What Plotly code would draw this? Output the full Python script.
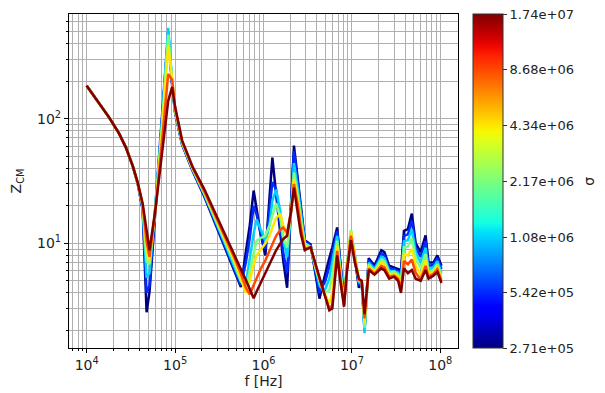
import plotly.graph_objects as go
import math

# ---------------- data ----------------
freq_hz = [1.00e4, 1.29e4, 1.80e4, 2.33e4, 2.78e4, 3.33e4, 3.78e4, 4.30e4, 4.76e4, 5.14e4,
           6.00e4, 7.17e4, 8.36e4, 9.26e4, 1.00e5, 1.20e5, 1.58e5, 2.15e5, 2.78e5, 3.59e5,
           4.64e5, 5.55e5, 6.31e5, 6.99e5, 7.74e5, 8.36e5, 9.26e5, 1.05e6, 1.17e6, 1.26e6,
           1.39e6, 1.55e6, 1.67e6, 1.85e6, 2.05e6, 2.21e6, 2.45e6, 2.64e6, 2.93e6, 3.41e6,
           3.88e6, 4.30e6, 4.64e6, 5.01e6, 5.55e6, 6.00e6, 6.81e6, 7.36e6, 8.15e6, 8.80e6,
           9.75e6, 1.08e7, 1.20e7, 1.29e7, 1.39e7, 1.55e7, 1.80e7, 2.15e7, 2.33e7, 2.64e7,
           3.00e7, 3.33e7, 3.59e7, 3.88e7, 4.30e7, 4.76e7, 5.27e7, 6.00e7, 6.81e7, 7.36e7,
           8.36e7, 9.26e7, 1.03e8]

sigma_values = [2.71e5, 5.42e5, 1.08e6, 2.17e6, 4.34e6, 8.68e6, 1.74e7]
sigma_tick_labels = ["2.71e+05", "5.42e+05", "1.08e+06", "2.17e+06",
                     "4.34e+06", "8.68e+06", "1.74e+07"]

z_sigma_1 = [184, 142, 102, 75.9, 58.6, 41.4, 30.0, 18.5, 2.8, 4.1,
             19, 108, 470, 185, 112, 62, 38, 23.5, 15, 9.6,
             6.1, 4.45, 8.5, 13.9, 26.5, 19, 12, 8.0, 24, 48.8,
             24.7, 12.2, 7.3, 4.4, 21, 60.8, 32, 19.8, 10.6, 9.8,
             5.6, 3.6, 4.6, 5.8, 7.6, 9.3, 13.4, 7.3, 3.5, 6.3,
             11, 7.6, 4.4, 5.0, 2.1, 7.6, 6.6, 8.8, 8.5, 6.6,
             6.4, 6.3, 6.1, 12.6, 13, 17.3, 10, 8.5, 11.6, 7.0,
             7.0, 8.0, 6.6]
z_sigma_2 = [184, 142, 102, 75.9, 58.6, 41.4, 30.1, 19, 4.0, 4.6,
             19.5, 108, 505, 190, 113, 62.5, 38.5, 24, 15.5, 9.9,
             6.3, 4.6, 7.0, 11, 20, 17, 12, 9.0, 18, 31,
             27, 14, 8.5, 5.8, 20, 55, 30, 19, 10.4, 9.6,
             5.8, 4.0, 4.5, 5.0, 6.5, 8.3, 12.5, 7.0, 3.4, 6.5,
             11.5, 7.8, 4.6, 5.0, 2.0, 7.3, 6.4, 8.3, 8.0, 6.3,
             6.2, 6.0, 5.6, 11.5, 11.8, 15.2, 9.2, 7.8, 10.4, 6.6,
             6.7, 7.6, 6.2]
z_sigma_3 = [184, 142, 102, 75.9, 58.6, 41.4, 30.2, 19.5, 5.3, 5.8,
             20, 104, 535, 200, 114, 63, 39, 24.5, 16, 10.3,
             6.6, 4.9, 4.7, 7.5, 12, 15.5, 13, 10.5, 14, 22,
             27, 18, 11, 7.7, 18, 44, 27, 17, 10, 9.4,
             6.1, 4.6, 4.3, 4.3, 5.2, 7.0, 11.5, 6.6, 3.3, 6.8,
             12.5, 8.0, 4.8, 5.0, 1.9, 7.0, 6.2, 7.8, 7.6, 6.0,
             6.0, 5.8, 5.2, 10.4, 10.6, 13, 8.4, 7.0, 9.2, 6.2,
             6.4, 7.2, 5.8]
z_sigma_4 = [184, 142, 102, 75.9, 58.6, 41.4, 30.3, 19.8, 7.2, 6.8,
             19.5, 96, 470, 205, 116, 64, 39.5, 25, 16.5, 10.8,
             7.0, 5.0, 4.3, 6.0, 8.5, 10.5, 11, 11.5, 14, 17,
             21, 16, 11, 9.3, 18, 37, 24, 16, 10, 9.3,
             6.3, 5.0, 4.3, 4.0, 4.2, 5.5, 10.5, 6.2, 3.3, 6.8,
             12.8, 8.0, 5.0, 5.0, 2.1, 6.8, 6.0, 7.4, 7.2, 5.8,
             5.9, 5.6, 4.9, 9.3, 9.4, 11, 7.6, 6.3, 8.2, 5.9,
             6.1, 6.8, 5.5]
z_sigma_5 = [184, 142, 102, 75.9, 58.6, 41.4, 30.4, 20, 8.8, 7.3,
             19, 85, 385, 210, 118, 65, 40, 25.5, 17, 11.2,
             7.4, 5.2, 4.0, 5.0, 6.8, 8.0, 8.8, 10, 11.5, 13.5,
             16, 17.3, 14, 11.1, 18, 33, 22, 14.5, 9.5, 9.3,
             6.5, 5.1, 4.3, 3.8, 3.3, 4.0, 9.5, 5.8, 3.2, 6.6,
             12.5, 7.8, 5.1, 5.0, 2.3, 6.5, 5.9, 7.0, 6.8, 5.6,
             5.7, 5.4, 4.6, 8.2, 8.0, 9, 6.6, 5.6, 7.3, 5.6,
             5.9, 6.5, 5.2]
z_sigma_6 = [184, 142, 102, 75.9, 58.6, 41.4, 30.5, 20.3, 10.3, 7.8,
             18.5, 70, 228, 205, 121, 66, 40.5, 26, 17.5, 11.6,
             7.8, 5.7, 4.4, 3.9, 4.6, 5.3, 6.2, 7.3, 8.6, 9.8,
             11.5, 12.8, 13.4, 12.2, 18, 30, 20, 13.5, 9, 9.3,
             6.7, 5.2, 4.3, 3.7, 3.0, 3.2, 8.7, 5.5, 3.2, 6.3,
             11.5, 7.4, 5.1, 5.0, 2.5, 6.3, 5.7, 6.6, 6.4, 5.4,
             5.5, 5.2, 4.3, 7.2, 6.8, 7.4, 5.8, 5.1, 6.6, 5.4,
             5.7, 6.2, 5.0]
z_sigma_7 = [184, 142, 102, 75.9, 58.6, 41.4, 30.7, 20.8, 12.2, 8.8,
             19, 55, 139, 180, 125, 67, 41, 27, 18, 12,
             8.2, 6.2, 5.1, 4.3, 3.63, 4.1, 4.8, 5.9, 6.8, 7.6,
             8.8, 10, 10.8, 11.5, 18, 28, 17.3, 12, 8.8, 9.3,
             6.8, 5.3, 4.4, 3.7, 2.9, 3.0, 8.0, 5.1, 3.1, 6.0,
             10.6, 7.0, 5.2, 5.0, 2.7, 6.1, 5.6, 6.3, 6.1, 5.2,
             5.4, 5.0, 4.0, 6.3, 5.75, 6.1, 5.2, 5.0, 6.1, 5.2,
             5.5, 5.9, 4.8]

z_curves = [z_sigma_1, z_sigma_2, z_sigma_3, z_sigma_4, z_sigma_5, z_sigma_6, z_sigma_7]

x_major = [1e4, 1e5, 1e6, 1e7, 1e8]
x_major_labels = ["10<sup>4</sup>", "10<sup>5</sup>", "10<sup>6</sup>", "10<sup>7</sup>", "10<sup>8</sup>"]
y_major = [1e1, 1e2]
y_major_labels = ["10<sup>1</sup>", "10<sup>2</sup>"]

# ---------------- styling helpers ----------------
JET = {
    "r": [(0, 0), (0.35, 0), (0.66, 1), (0.89, 1), (1, 0.5)],
    "g": [(0, 0), (0.125, 0), (0.375, 1), (0.64, 1), (0.91, 0), (1, 0)],
    "b": [(0, 0.5), (0.11, 1), (0.34, 1), (0.65, 0), (1, 0)],
}


def _seg(points, t):
    for (x0, y0), (x1, y1) in zip(points[:-1], points[1:]):
        if x0 <= t <= x1:
            return y0 + (y1 - y0) * (t - x0) / (x1 - x0)
    return points[-1][1]


def jet(t):
    t = min(max(t, 0.0), 1.0)
    r, g, b = (_seg(JET[c], t) for c in "rgb")
    return "rgb(%d,%d,%d)" % (round(r * 255), round(g * 255), round(b * 255))


jet_scale = [[i / 40, jet(i / 40)] for i in range(41)]
cmin = math.log10(sigma_values[0])
cmax = math.log10(sigma_values[-1])

minor_x = [m * 10 ** e for e in range(3, 9) for m in range(2, 10)]
minor_y = [m * 10 ** e for e in range(0, 3) for m in range(2, 10)]

FONT = "DejaVu Sans"
GRID = "#b0b0b0"
TXT = "#222222"

fig = go.Figure()
for sig, z in zip(sigma_values, z_curves):
    t = (math.log10(sig) - cmin) / (cmax - cmin)
    fig.add_trace(go.Scatter(x=freq_hz, y=z, mode="lines",
                             line=dict(color=jet(t), width=2.5),
                             showlegend=False, hoverinfo="skip"))

# colour bar carrier
fig.add_trace(go.Scatter(
    x=[freq_hz[0]], y=[z_sigma_1[0]], mode="markers",
    marker=dict(size=1, opacity=0, color=[cmin], colorscale=jet_scale,
                cmin=cmin - 1e-9, cmax=cmax + 1e-9, showscale=True,
                colorbar=dict(
                    thickness=30, thicknessmode="pixels",
                    len=1, lenmode="fraction",
                    x=1.038, xanchor="left", xpad=0,
                    y=0.5, yanchor="middle", ypad=0,
                    tickmode="array",
                    tickvals=[math.log10(s) for s in sigma_values],
                    ticktext=sigma_tick_labels,
                    ticklabeloverflow="allow",
                    ticks="outside", ticklen=4, tickcolor="#333333",
                    outlinewidth=1, outlinecolor="#333333",
                    tickfont=dict(family=FONT, size=13, color=TXT),
                )),
    showlegend=False, hoverinfo="skip"))

fig.add_annotation(text="σ", xref="paper", yref="paper", x=1.336, y=0.5,
                   xanchor="center", yanchor="middle", textangle=-90,
                   showarrow=False, font=dict(family=FONT, size=14, color=TXT))

axis_common = dict(
    type="log", showline=True, mirror=True, linecolor="black", linewidth=1.2,
    ticks="outside", ticklen=4, tickcolor="black",
    showgrid=True, gridcolor=GRID, gridwidth=1, zeroline=False,
    tickfont=dict(family=FONT, size=14, color=TXT),
)

fig.update_layout(
    width=597, height=385, autosize=False,
    margin=dict(l=54, r=147, t=5, b=45),
    paper_bgcolor="white", plot_bgcolor="white",
    font=dict(family=FONT, size=14, color=TXT),
    xaxis=dict(axis_common, range=[3.8, 8.2], tickmode="array",
               tickvals=x_major, ticktext=x_major_labels,
               minor=dict(tickmode="array", tickvals=minor_x, ticks="outside",
                          ticklen=2, tickcolor="black", showgrid=True,
                          gridcolor=GRID, gridwidth=1),
               title=dict(text="f [Hz]", standoff=3,
                          font=dict(family=FONT, size=14, color=TXT))),
    yaxis=dict(axis_common, range=[0.16, 2.84], tickmode="array",
               tickvals=y_major, ticktext=y_major_labels,
               minor=dict(tickmode="array", tickvals=minor_y, ticks="outside",
                          ticklen=2, tickcolor="black", showgrid=True,
                          gridcolor=GRID, gridwidth=1),
               title=dict(text="Z<sub>CM</sub>", standoff=14,
                          font=dict(family=FONT, size=14, color=TXT))),
)

fig.write_html("out.html")
